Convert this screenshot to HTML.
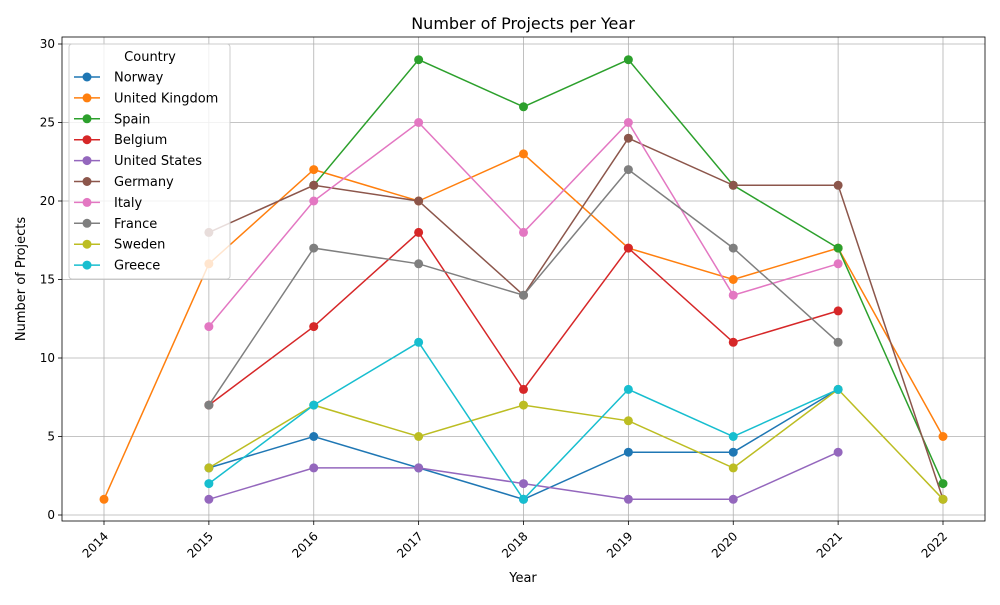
<!DOCTYPE html>
<html><head><meta charset="utf-8"><style>
body{margin:0;background:#fff;font-family:"Liberation Sans","DejaVu Sans",sans-serif}
svg text{font-family:"DejaVu Sans","Liberation Sans",sans-serif}
</style></head><body>
<svg id="c" width="1000" height="600" xmlns="http://www.w3.org/2000/svg"></svg>
<script>
const years=[2014,2015,2016,2017,2018,2019,2020,2021,2022];
const yTicks=[0,5,10,15,20,25,30];
const seriesNames=["Norway","United Kingdom","Spain","Belgium","United States","Germany","Italy","France","Sweden","Greece"];
const colors=["#1f77b4","#ff7f0e","#2ca02c","#d62728","#9467bd","#8c564b","#e377c2","#7f7f7f","#bcbd22","#17becf"];
const norway=[null,3,5,3,1,4,4,8,null];
const uk=[1,16,22,20,23,17,15,17,5];
const spain=[null,null,21,29,26,29,21,17,2];
const belgium=[null,7,12,18,8,17,11,13,null];
const us=[null,1,3,3,2,1,1,4,null];
const germany=[null,18,21,20,14,24,21,21,1];
const italy=[null,12,20,25,18,25,14,16,null];
const france=[null,7,17,16,14,22,17,11,null];
const sweden=[null,3,7,5,7,6,3,8,1];
const greece=[null,2,7,11,1,8,5,8,null];
const allSeries=[norway,uk,spain,belgium,us,germany,italy,france,sweden,greece];

const L=62,R=985,T=37,B=521;
const x=y=>104+(y-2014)*(943-104)/8;
const yS=v=>515-v*(515-44)/30;
const svg=document.getElementById('c');
const NS="http://www.w3.org/2000/svg";
function mk(t,a,p){const e=document.createElementNS(NS,t);for(const k in a)e.setAttribute(k,a[k]);(p||svg).appendChild(e);return e;}

const grid=mk('g',{});


years.forEach(yr=>{
  mk('line',{x1:x(yr),x2:x(yr),y1:T,y2:B,stroke:'#b0b0b0','stroke-width':0.8},grid);
  mk('line',{x1:x(yr),x2:x(yr),y1:B,y2:B+4,stroke:'#000','stroke-width':0.8},grid);
  const t=mk('text',{x:0,y:0,'font-size':12,'text-anchor':'end',transform:`translate(${x(yr)+5},${B+16}) rotate(-45)`},grid);
  t.textContent=yr;
  
  
});
yTicks.forEach(v=>{
  mk('line',{x1:L,x2:R,y1:yS(v),y2:yS(v),stroke:'#b0b0b0','stroke-width':0.8},grid);
  mk('line',{x1:L-4,x2:L,y1:yS(v),y2:yS(v),stroke:'#000','stroke-width':0.8},grid);
  const t=mk('text',{x:L-7,y:yS(v)+4,'font-size':12,'text-anchor':'end'},grid);
  t.textContent=v;
  
  
});

allSeries.forEach((s,i)=>{
  const g=mk('g',{});
  
  
  const pts=[];
  s.forEach((v,j)=>{if(v!==null)pts.push([x(years[j]),yS(v)]);});
  mk('polyline',{points:pts.map(p=>p.join(',')).join(' '),fill:'none',stroke:colors[i],'stroke-width':1.5},g);
  pts.forEach(p=>{
    const c=mk('circle',{cx:p[0],cy:p[1],r:4.5,fill:colors[i]},g);
    
    
  });
});

const frame=mk('rect',{x:L,y:T,width:R-L,height:B-T,fill:'none',stroke:'#000','stroke-width':0.8});



const lg=mk('g',{});


mk('rect',{x:69,y:44,width:161,height:235,rx:3,fill:'#fff','fill-opacity':0.8,stroke:'#ccc','stroke-width':1},lg);
const lt=mk('text',{x:150,y:61,'font-size':13,'text-anchor':'middle'},lg);
lt.textContent='Country';


seriesNames.forEach((n,i)=>{
  const yy=77+i*20.9;
  const e=mk('g',{},lg);
  
  
  mk('line',{x1:74,x2:100,y1:yy,y2:yy,stroke:colors[i],'stroke-width':1.5},e);
  mk('circle',{cx:87,cy:yy,r:4.5,fill:colors[i]},e);
  const t=mk('text',{x:114,y:yy+4.5,'font-size':13},e);
  t.textContent=n;
});

const title=mk('text',{x:523,y:29,'font-size':16,'text-anchor':'middle'});
title.textContent='Number of Projects per Year';


const xt=mk('text',{x:523,y:582,'font-size':13,'text-anchor':'middle'});
xt.textContent='Year';


const yt=mk('text',{x:0,y:0,'font-size':13,'text-anchor':'middle',transform:'translate(25,279) rotate(-90)'});
yt.textContent='Number of Projects';


</script>
</body></html>
